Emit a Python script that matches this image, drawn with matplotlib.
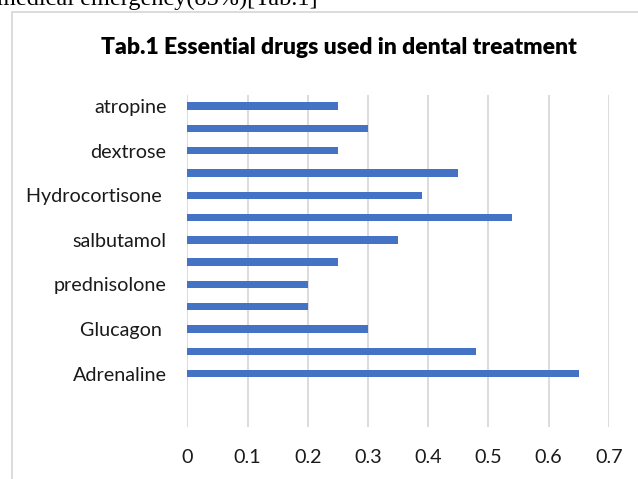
import matplotlib
matplotlib.use("Agg")
import matplotlib.pyplot as plt
from matplotlib.patches import Rectangle
import numpy as np

# Drugs from bottom (Adrenaline) to top (atropine); unnamed rows carry no label
drugs = ["Adrenaline", "", "Glucagon ", "", "prednisolone", "", "salbutamol",
         "", "Hydrocortisone ", "", "dextrose", "", "atropine"]
shares = [0.65, 0.48, 0.30, 0.20, 0.20, 0.25, 0.35, 0.54, 0.39, 0.45, 0.25, 0.30, 0.25]
x_ticks = [0, 0.1, 0.2, 0.3, 0.4, 0.5, 0.6, 0.7]
x_tick_labels = ["0", "0.1", "0.2", "0.3", "0.4", "0.5", "0.6", "0.7"]
title = "Tab.1 Essential drugs used in dental treatment"

W, H = 638, 479
fig = plt.figure(figsize=(W / 100, H / 100), dpi=100)

font = "Lato"

# chart frame
fig.patches.append(Rectangle((11.5 / W, -0.1), 1.0, (H - 11.5) / H + 0.1,
                             transform=fig.transFigure, fill=False,
                             edgecolor="#d9d9d9", linewidth=1.3))

# running text above the chart
fig.text(-3 / W, 1 - 5 / H, "medical emergency(85%)[Tab.1]", family="Liberation Serif",
         fontsize=17.5, ha="left", va="baseline", color="black")

left, right, top, bottom = 187.3, 608.7, 95, 427
ax = fig.add_axes([left / W, 1 - bottom / H, (right - left) / W, (bottom - top) / H])

y = np.arange(len(drugs))
ax.barh(y, shares, height=0.33, color="#4472C4", zorder=3)

ax.set_xlim(0, 0.7)
ax.set_ylim(-2.4, 12.5)
ax.set_xticks(x_ticks)
ax.set_xticklabels(x_tick_labels, family=font, fontsize=14.2, color="#1a1a1a")
ax.set_yticks(y)
ax.set_yticklabels(drugs, family=font, fontsize=14.2, color="#1a1a1a")
ax.tick_params(axis="both", length=0)
ax.tick_params(axis="x", pad=16)
ax.tick_params(axis="y", pad=15)
ax.grid(axis="x", color="#d9d9d9", linewidth=1.3, zorder=0)
for s in ax.spines.values():
    s.set_visible(False)

fig.text(339 / W, 1 - 48 / H, title, family=font, fontweight="heavy",
         fontsize=16.5, ha="center", va="center", color="black")

fig.savefig("out.png", dpi=100)
